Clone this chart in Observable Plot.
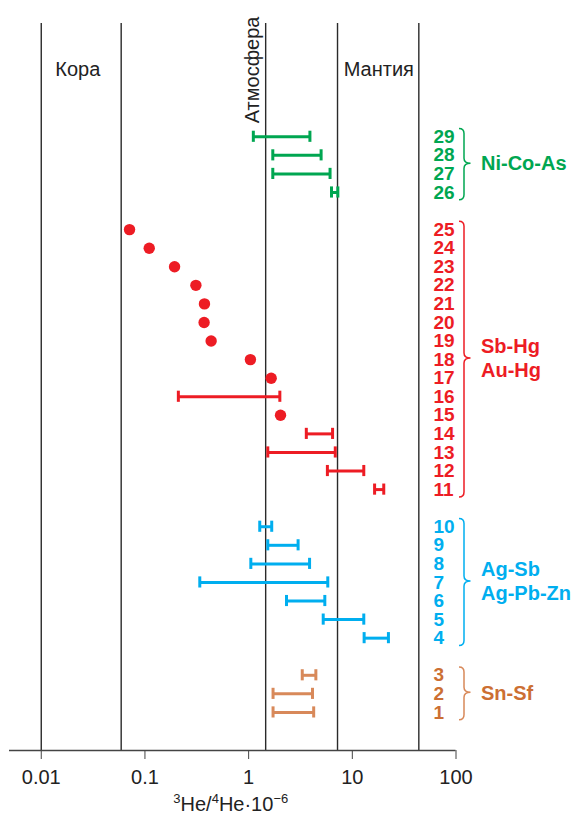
<!DOCTYPE html>
<html><head><meta charset="utf-8">
<script src="https://cdn.jsdelivr.net/npm/d3@7"></script>
<script src="https://cdn.jsdelivr.net/npm/@observablehq/plot@0.6"></script>
<style>body{margin:0;background:#fff} svg{display:block}</style>
</head><body><div id="chart"></div>
<script>
// ---- data ----
const rowIds = [29,28,27,26,25,24,23,22,21,20,19,18,17,16,15,14,13,12,11,10,9,8,7,6,5,4,3,2,1];
const barIds  = [29,28,27,26,16,14,13,12,11,10,9,8,7,6,5,4,3,2,1];
const barLow  = [1.11,1.71,1.71,6.3,0.21,3.6,1.53,5.75,16.4,1.28,1.53,1.05,0.338,2.32,5.24,13.0,3.29,1.72,1.72];
const barHigh = [3.9,5.0,6.1,7.25,2.0,6.45,6.85,12.9,20.1,1.67,3.0,3.87,5.8,5.43,12.9,22.3,4.45,4.13,4.24];
const dotIds    = [25,24,23,22,21,20,19,18,17,15];
const dotValues = [0.071,0.11,0.193,0.31,0.375,0.372,0.435,1.04,1.65,2.03];
const groupNames  = ["Ni-Co-As","Sb-Hg\nAu-Hg","Ag-Sb\nAg-Pb-Zn","Sn-Sf"];
const groupFirst  = [26,11,4,1];
const groupLast   = [29,25,10,3];
const groupColors = ["#00a651","#ed1c24","#00aeef","#d8895a"];
const groupText   = ["#00a651","#ed1c24","#00aeef","#cc6f33"];
const boundaries  = [0.01,0.059,1.46,7.2,43.8];
const regionNames = ["Кора","Атмосфера","Мантия"];
const regionX     = [0.0225,1.088,18.0];
const xTicks      = [0.01,0.1,1,10,100];
const xTitle      = ["3","He/","4","He·10","−6"];

// ---- layout helpers ----
const pos = n => n - 1 + (n >= 4) + (n >= 11) + (n >= 26);
const groupOf = n => groupFirst.findIndex((f, i) => n >= f && n <= groupLast[i]);
const yMin = -2.05, yMax = 37.1;

const bars = barIds.map((id, i) => ({id, lo: barLow[i], hi: barHigh[i], g: groupOf(id)}));
const dots = dotIds.map((id, i) => ({id, v: dotValues[i]}));
const groups = groupNames.map((name, i) => ({name, first: groupFirst[i], last: groupLast[i], i}));
const regions = regionNames.map((name, i) => ({name, x: regionX[i], rot: i === 1 ? -90 : 0}));

const color = d => groupColors[d.g];

function braces(index, scales, values, dims) {
  const g = document.createElementNS("http://www.w3.org/2000/svg", "g");
  const x0 = scales.x(100);
  const xl = x0 + 3.5, xs = x0 + 8.5, xt = x0 + 15, r = 5;
  groups.forEach(gr => {
    const yt = scales.y(pos(gr.last) + 0.42);
    const yb = scales.y(pos(gr.first) - 0.42);
    const ym = (scales.y(pos(gr.last)) + scales.y(pos(gr.first))) / 2 - 1;
    const p = d3.path();
    p.moveTo(xl, yt);
    p.quadraticCurveTo(xs, yt, xs, yt + r);
    p.lineTo(xs, ym - r);
    p.quadraticCurveTo(xs, ym, xt, ym);
    p.quadraticCurveTo(xs, ym, xs, ym + r);
    p.lineTo(xs, yb - r);
    p.quadraticCurveTo(xs, yb, xl, yb);
    const path = document.createElementNS("http://www.w3.org/2000/svg", "path");
    path.setAttribute("d", p.toString());
    path.setAttribute("fill", "none");
    path.setAttribute("stroke", groupColors[gr.i]);
    path.setAttribute("stroke-width", 1.5);
    g.appendChild(path);
  });
  return g;
}

function axisTitle(index, scales, values, dims) {
  const t = document.createElementNS("http://www.w3.org/2000/svg", "text");
  t.setAttribute("x", scales.x(0.68));
  t.setAttribute("y", dims.height - 5);
  t.setAttribute("text-anchor", "middle");
  t.setAttribute("font-size", 20);
  t.setAttribute("fill", "#222");
  xTitle.forEach((s, i) => {
    const sp = document.createElementNS("http://www.w3.org/2000/svg", "tspan");
    sp.textContent = s;
    const sup = i % 2 === 0;
    if (sup) { sp.setAttribute("font-size", 13); sp.setAttribute("dy", "-8"); }
    else sp.setAttribute("dy", "8");
    t.appendChild(sp);
  });
  return t;
}

const chart = Plot.plot({
  width: 578, height: 816,
  marginLeft: 9, marginRight: 122.5, marginTop: 23, marginBottom: 66,
  style: {fontFamily: "'Liberation Sans', Arial, sans-serif", fontSize: "20px", color: "#222", background: "#fff"},
  x: {type: "log", domain: [0.00494, 100]},
  y: {domain: [yMin, yMax], axis: null},
  marks: [
    Plot.ruleX(boundaries, {stroke: "#2a2a2a", strokeWidth: 1.4}),
    Plot.ruleY([yMin], {stroke: "#444", strokeWidth: 1.4}),
    Plot.axisX({ticks: xTicks, tickFormat: d => String(d), tickSize: 9, tickPadding: 10, stroke: "#444", fill: "#222", label: null}),
    Plot.ruleY(bars, {y: d => pos(d.id), x1: "lo", x2: "hi", stroke: color, strokeWidth: 3}),
    Plot.ruleX(bars, {x: "lo", y1: d => pos(d.id) - 0.3, y2: d => pos(d.id) + 0.3, stroke: color, strokeWidth: 3}),
    Plot.ruleX(bars, {x: "hi", y1: d => pos(d.id) - 0.3, y2: d => pos(d.id) + 0.3, stroke: color, strokeWidth: 3}),
    Plot.dot(dots, {x: "v", y: d => pos(d.id), r: 5.7, fill: groupColors[1], stroke: null}),
    Plot.text(rowIds, {x: () => 100, y: pos, text: d => String(d), dx: -22.5, textAnchor: "start", fontWeight: "bold", fontSize: 19, fill: d => groupText[groupOf(d)]}),
    Plot.text(groups, {x: () => 100, y: d => (pos(d.first) + pos(d.last)) / 2, text: "name", dx: 25, dy: -2, textAnchor: "start", fontWeight: "bold", fontSize: 20, lineHeight: 1.2, fill: d => groupText[d.i]}),
    braces,
    Plot.text(regions, {x: "x", y: () => 34.6, text: "name", rotate: "rot", fontSize: 20, fill: "#222"}),
    axisTitle
  ]
});
document.getElementById("chart").appendChild(chart);
</script>
</body></html>
